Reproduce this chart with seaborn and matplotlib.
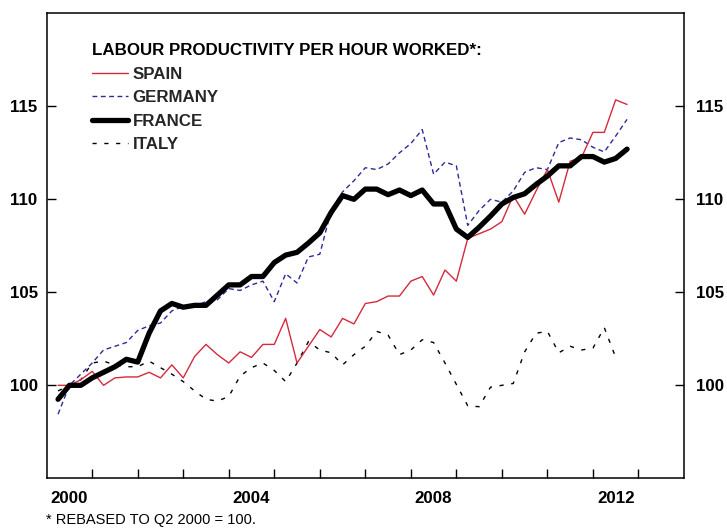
import numpy as np
import pandas as pd
import matplotlib
matplotlib.use("Agg")
import matplotlib.pyplot as plt
import seaborn as sns

# ---------------- data (quarterly, Q1 2000 .. Q3 2012) ----------------
first_quarter = "2000Q1"
last_quarter = "2012Q3"

spain = [100.0, 100.0, 100.3, 100.75, 100.0, 100.4, 100.45, 100.45, 100.7, 100.4,
         101.1, 100.4, 101.55, 102.2, 101.65, 101.2, 101.8, 101.5, 102.2, 102.2,
         103.6, 101.2, 102.1, 103.0, 102.6, 103.6, 103.3, 104.4, 104.5, 104.8,
         104.8, 105.6, 105.85, 104.85, 106.2, 105.6, 107.9, 108.15, 108.4, 108.8,
         110.2, 109.2, 110.45, 111.6, 109.85, 112.05, 112.25, 113.6, 113.6, 115.35,
         115.1]

germany = [98.45, 100.0, 100.6, 101.2, 101.9, 102.1, 102.3, 102.95, 103.2, 103.35,
           104.0, 104.25, 104.25, 104.5, 104.6, 105.2, 105.1, 105.4, 105.6, 104.5,
           106.0, 105.5, 106.9, 107.05, 109.4, 110.4, 111.0, 111.7, 111.6, 111.9,
           112.5, 113.0, 113.75, 111.35, 112.0, 111.8, 108.6, 109.4, 110.0, 109.85,
           110.45, 111.45, 111.7, 111.6, 113.05, 113.3, 113.2, 112.8, 112.55, 113.4,
           114.3]

france = [99.25, 100.0, 100.0, 100.4, 100.7, 101.0, 101.4, 101.25, 102.8, 104.0,
          104.4, 104.2, 104.3, 104.3, 104.85, 105.4, 105.4, 105.85, 105.85, 106.6,
          107.0, 107.15, 107.65, 108.2, 109.3, 110.2, 110.0, 110.55, 110.55, 110.25,
          110.5, 110.2, 110.5, 109.75, 109.75, 108.4, 107.95, 108.5, 109.1, 109.75,
          110.1, 110.3, 110.8, 111.25, 111.8, 111.8, 112.3, 112.3, 112.0, 112.2,
          112.7]

italy = [99.7, 100.0, 100.3, 101.2, 101.3, 101.1, 101.0, 101.0, 101.3, 100.95,
         100.6, 100.2, 99.7, 99.25, 99.15, 99.4, 100.5, 100.95, 101.2, 100.8,
         100.2, 101.2, 102.35, 101.9, 101.75, 101.1, 101.65, 102.1, 102.9, 102.7,
         101.65, 101.9, 102.45, 102.3, 101.2, 100.05, 98.9, 98.85, 99.9, 100.0,
         100.1, 101.8, 102.8, 102.9, 101.75, 102.1, 101.9, 102.0, 103.1, 101.5]

series_names = ["SPAIN", "GERMANY", "FRANCE", "ITALY"]
y_ticks = [100, 105, 110, 115]
x_label_years = [2000, 2004, 2008, 2012]
title_text = "LABOUR PRODUCTIVITY PER HOUR WORKED*:"
footnote = "* REBASED TO Q2 2000 = 100."

# ---------------- build long table ----------------
quarters = pd.period_range(first_quarter, last_quarter, freq="Q")
qx = np.array([p.year + p.quarter / 4.0 for p in quarters])

frames = []
for name, vals in zip(series_names, [spain, germany, france, italy]):
    frames.append(pd.DataFrame({"x": qx[:len(vals)], "value": vals, "country": name}))
df = pd.concat(frames, ignore_index=True)

# ---------------- styling ----------------
sns.set_theme(style="white")
plt.rcParams["font.family"] = ["Liberation Sans", "DejaVu Sans"]

FS = 12.2

styles = {
    "SPAIN":   dict(color="#d42a3c", linewidth=1.0, linestyle="-"),
    "GERMANY": dict(color="#2b2b9c", linewidth=1.0, linestyle=(0, (3.5, 2.5))),
    "FRANCE":  dict(color="black", linewidth=3.8, linestyle="-"),
    "ITALY":   dict(color="black", linewidth=1.0, linestyle=(0, (3.0, 5.5))),
}
zorders = {"SPAIN": 3, "GERMANY": 2, "FRANCE": 4, "ITALY": 2}

fig = plt.figure(figsize=(7.27, 5.29), dpi=100)
ax = fig.add_axes([0.0642, 0.0958, 0.8766, 0.8790])

handles = []
for name in series_names:
    sub = df[df["country"] == name]
    sns.lineplot(data=sub, x="x", y="value", ax=ax, zorder=zorders[name],
                 label=name, **styles[name])
    handles.append(ax.get_lines()[-1])

ax.set_xlim(2000, 2014)
ax.set_ylim(95, 120)
ax.set_xlabel("")
ax.set_ylabel("")

for s in ax.spines.values():
    s.set_color("black")
    s.set_linewidth(1.1)
    s.set_visible(True)

# x: year-boundary ticks (no labels) + mid-year labels
ax.set_xticks(np.arange(2001, 2014))
ax.set_xticklabels([])
ax.set_xticks([y + 0.5 for y in x_label_years], minor=True)
ax.set_xticklabels([str(y) for y in x_label_years], minor=True)
ax.tick_params(axis="x", which="major", direction="in", length=6.5, width=1.0,
               bottom=True, top=False, color="black")
ax.tick_params(axis="x", which="minor", length=0, pad=9, labelsize=FS,
               labelcolor="black")
for t in ax.get_xticklabels(minor=True):
    t.set_fontweight("bold")

# y: left labels
ax.set_yticks(y_ticks)
ax.set_yticklabels([str(v) for v in y_ticks])
ax.tick_params(axis="y", which="major", direction="in", length=6.5, width=1.0,
               left=True, right=False, pad=6.5, labelsize=FS, color="black",
               labelcolor="black")
for t in ax.get_yticklabels():
    t.set_fontweight("bold")

# y: right side ticks and labels
ax2 = ax.twinx()
ax2.set_ylim(ax.get_ylim())
ax2.set_yticks(y_ticks)
ax2.set_yticklabels([str(v) for v in y_ticks])
ax2.tick_params(axis="y", direction="in", length=6.5, width=1.0, right=True,
                pad=8.5, labelsize=FS, color="black", labelcolor="black")
for t in ax2.get_yticklabels():
    t.set_fontweight("bold")
for s in ax2.spines.values():
    s.set_visible(False)

# legend
leg = ax.legend(handles=handles, labels=series_names, loc="upper left",
                bbox_to_anchor=(0.071, 0.936), borderaxespad=0, borderpad=0,
                frameon=False, title=title_text, alignment="left",
                prop={"weight": "bold", "size": FS},
                title_fontproperties={"weight": "bold", "size": FS},
                handlelength=2.1, handletextpad=0.3, labelspacing=0.5)
leg.get_title().set_color("black")

fig.text(0.0635, 0.0175, footnote, fontsize=10.5, color="black",
         ha="left", va="center")

fig.savefig("out.png", dpi=100, facecolor="white")
